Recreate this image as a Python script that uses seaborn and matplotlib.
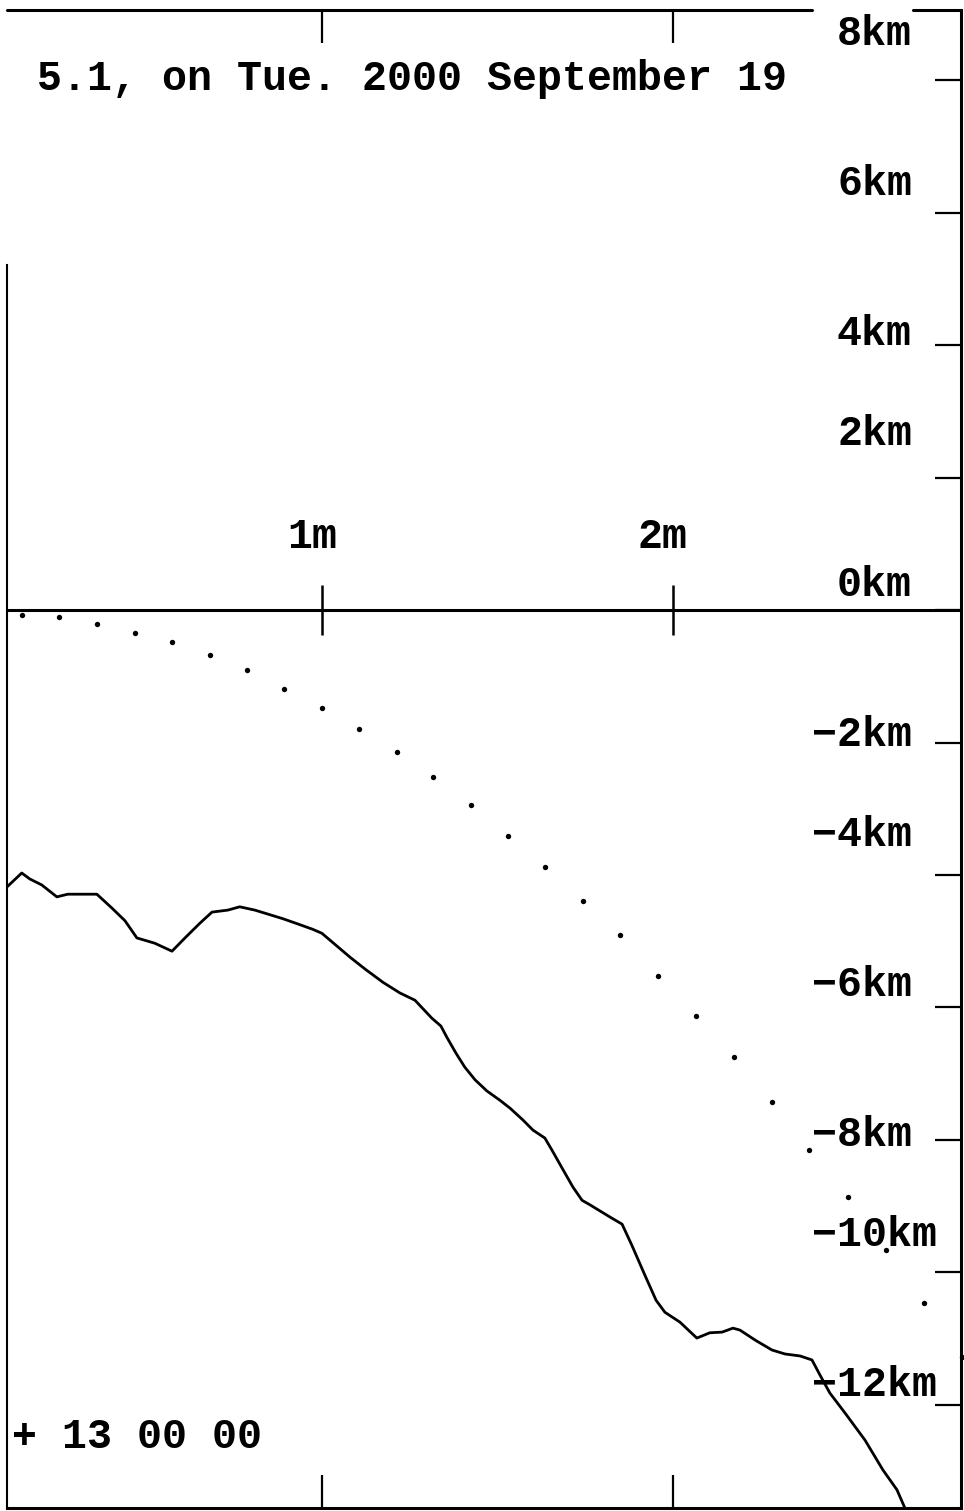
import matplotlib
matplotlib.use("Agg")
import matplotlib.pyplot as plt
import seaborn as sns

# Depth trace (solid line): time in minutes, depth in km
trace_min = [0.103, 0.145, 0.168, 0.202, 0.245, 0.276, 0.359, 0.402, 0.439, 0.473,
             0.524, 0.573, 0.610, 0.652, 0.687, 0.732, 0.766, 0.809, 0.846, 0.889,
             0.932, 0.974, 1.000, 1.040, 1.080, 1.123, 1.174, 1.222, 1.265, 1.313,
             1.339, 1.356, 1.382, 1.407, 1.436, 1.470, 1.507, 1.536, 1.573, 1.601,
             1.635, 1.655, 1.687, 1.715, 1.741, 1.764, 1.798, 1.826, 1.855, 1.883,
             1.920, 1.952, 1.977, 2.020, 2.068, 2.105, 2.140, 2.171, 2.191, 2.234,
             2.282, 2.319, 2.362, 2.396, 2.419, 2.447, 2.490, 2.547, 2.598, 2.638,
             2.661, 2.689]
trace_km = [-4.18, -3.97, -4.06, -4.15, -4.33, -4.29, -4.29, -4.50, -4.69, -4.95,
            -5.03, -5.15, -4.95, -4.73, -4.56, -4.53, -4.48, -4.53, -4.59, -4.66,
            -4.74, -4.82, -4.88, -5.06, -5.24, -5.42, -5.62, -5.78, -5.89, -6.16,
            -6.28, -6.45, -6.69, -6.90, -7.09, -7.26, -7.40, -7.52, -7.70, -7.85,
            -7.97, -8.15, -8.45, -8.71, -8.91, -8.98, -9.09, -9.18, -9.27, -9.59,
            -10.04, -10.42, -10.60, -10.75, -10.99, -10.91, -10.90, -10.84, -10.87, -11.02,
            -11.17, -11.23, -11.26, -11.32, -11.55, -11.82, -12.12, -12.53, -12.98, -13.28,
            -13.56, -13.81]

# Reference curve (dotted)
dot_min = [0.145, 0.251, 0.359, 0.467, 0.573, 0.681, 0.786, 0.892, 1.000, 1.105,
           1.214, 1.316, 1.425, 1.530, 1.635, 1.744, 1.849, 1.957, 2.066, 2.174,
           2.282, 2.387, 2.499, 2.607, 2.715, 2.823]
dot_km = [-0.08, -0.11, -0.21, -0.35, -0.48, -0.68, -0.91, -1.19, -1.48, -1.80,
          -2.14, -2.52, -2.94, -3.41, -3.88, -4.39, -4.91, -5.53, -6.13, -6.75,
          -7.43, -8.15, -8.86, -9.66, -10.46, -11.28]

# Axis ticks and labels
minute_ticks = [1, 2]
minute_labels = ["1m", "2m"]
km_ticks = [8, 6, 4, 2, 0, -2, -4, -6, -8, -10, -12]
km_labels = ["8km", "6km", "4km", "2km", "0km", "−2km", "−4km", "−6km",
             "−8km", "−10km", "−12km"]
km_label_rows = [0, 3, 6, 8, 11, 14, 16, 19, 22, 24, 27]

title = "5.1, on Tue. 2000 September 19"
clock = "+ 13 00 00"

W, H = 964, 1511
sns.set_style("white")
plt.rcParams["font.family"] = ["Liberation Mono", "DejaVu Sans Mono"]

fig = plt.figure(figsize=(W / 100, H / 100), dpi=100)
fig.patch.set_facecolor("white")
ax = fig.add_axes([7 / W, 3 / H, 954 / W, 1498 / H])
ax.set_facecolor("white")
x0, x1 = 0.103, 2.8205
y0, y1 = -13.555, 9.057
ax.set_xlim(x0, x1)
ax.set_ylim(y0, y1)

LW = 2.2
sns.lineplot(x=trace_min, y=trace_km, ax=ax, color="black", lw=2.0,
             estimator=None, sort=False)
sns.scatterplot(x=dot_min, y=dot_km, ax=ax, color="black", s=15,
                linewidth=0, clip_on=False)

# zero line with minute crossings
ax.axhline(0, color="black", lw=LW)
ax.plot(minute_ticks, [0] * len(minute_ticks), ls="none", marker="|",
        ms=36, mew=1.8, color="black")

# frame
for side in ("left", "right", "bottom"):
    ax.spines[side].set_color("black")
    ax.spines[side].set_linewidth(LW)
ax.spines["left"].set_linewidth(1.5)
ax.spines["left"].set_bounds(y0, 5.21)
ax.spines["top"].set_visible(False)
ax.axhline(y1, xmin=0, xmax=0.844, color="black", lw=LW, clip_on=False)
ax.axhline(y1, xmin=0.9497, xmax=1, color="black", lw=LW, clip_on=False)

# ticks
ax.yaxis.tick_right()
ax.set_yticks(km_ticks)
ax.set_yticklabels([])
ax.tick_params(axis="y", direction="in", length=18.7, width=1.6,
               color="black", right=True, left=False)
ax.set_xticks(minute_ticks)
ax.set_xticklabels([])
ax.tick_params(axis="x", direction="in", length=23.5, width=1.6,
               color="black", top=True, bottom=True)
ax.set_xlabel("")
ax.set_ylabel("")
ax.grid(False)

font = dict(fontsize=30, fontweight="bold", color="black")


def grid_text(col, baseline_px, s):
    """Place text on the 25 px x 50 px character grid of the display."""
    fig.text((12 + 25 * col) / W, 1 - baseline_px / H, s,
             ha="left", va="baseline", **font)


grid_text(1, 90, title)
grid_text(0, 1448, clock)
for lab, row, val in zip(km_labels, km_label_rows, km_ticks):
    grid_text(32 if val < 0 else 33, 45 + 50.05 * row, lab)

for t, lab in zip(minute_ticks, minute_labels):
    ax.annotate(lab, xy=(t, 0), xycoords="data", textcoords="offset pixels",
                xytext=(-35, 62), ha="left", va="baseline", **font)

fig.savefig("out.png", dpi=100, facecolor="white")
